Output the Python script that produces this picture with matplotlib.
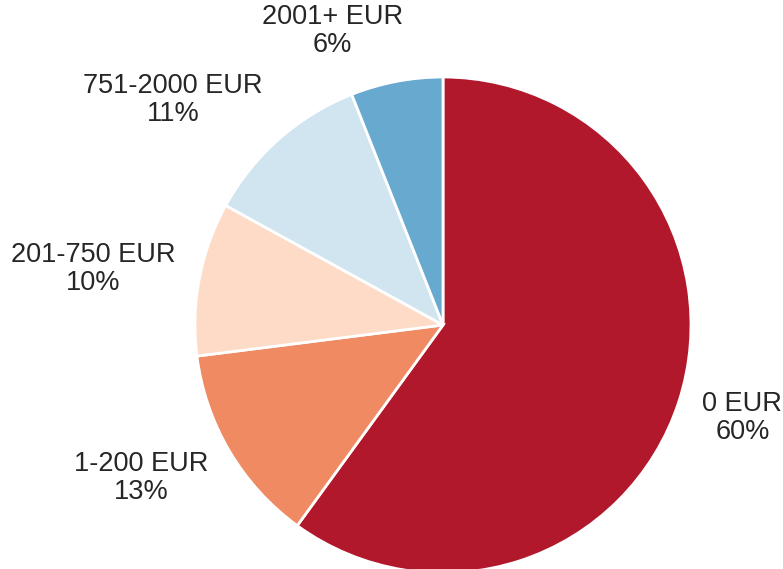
import matplotlib
matplotlib.use("Agg")
import matplotlib.pyplot as plt
import numpy as np

# Share of respondents by amount spent
categories = ["0 EUR", "1-200 EUR", "201-750 EUR", "751-2000 EUR", "2001+ EUR"]
shares = [60, 13, 10, 11, 6]
colors = ["#B2182B", "#EF8A62", "#FDDBC7", "#D1E5F0", "#67A9CF"]

plt.rcParams["font.family"] = ["Liberation Sans", "DejaVu Sans"]

W, H = 783, 569
fig = plt.figure(figsize=(W / 100, H / 100), dpi=100)
ax = fig.add_axes([0, 0, 1, 1])

# work in pixel units so the pie sits where we want it
cx, cy, r = 443, 244, 248
wedges, _ = ax.pie(shares, colors=colors, startangle=90, counterclock=False,
                   radius=r, center=(cx, cy),
                   wedgeprops=dict(edgecolor="white", linewidth=2))
ax.set_xlim(0, W)
ax.set_ylim(0, H)
ax.set_aspect("equal")
ax.axis("off")

fig.canvas.draw()
renderer = fig.canvas.get_renderer()
for w, cat, val in zip(wedges, categories, shares):
    mid = np.deg2rad((w.theta1 + w.theta2) / 2)
    ax_x = cx + 1.1 * r * np.cos(mid)
    ax_y = cy + 1.1 * r * np.sin(mid)
    t = ax.text(ax_x, ax_y, f"{cat}\n{val}%", ha="center", va="center",
                multialignment="center", fontsize=19.5, color="#262626",
                linespacing=1.1)
    bb = t.get_window_extent(renderer)
    # push the label outward so its nearest edge touches the anchor point
    dx = bb.width / 2 * np.sign(np.cos(mid)) * min(1, abs(np.cos(mid)) * 4.5)
    dy = bb.height / 2 * np.sin(mid)
    t.set_position((ax_x + dx, ax_y + dy))

fig.savefig("out.png", dpi=100)
